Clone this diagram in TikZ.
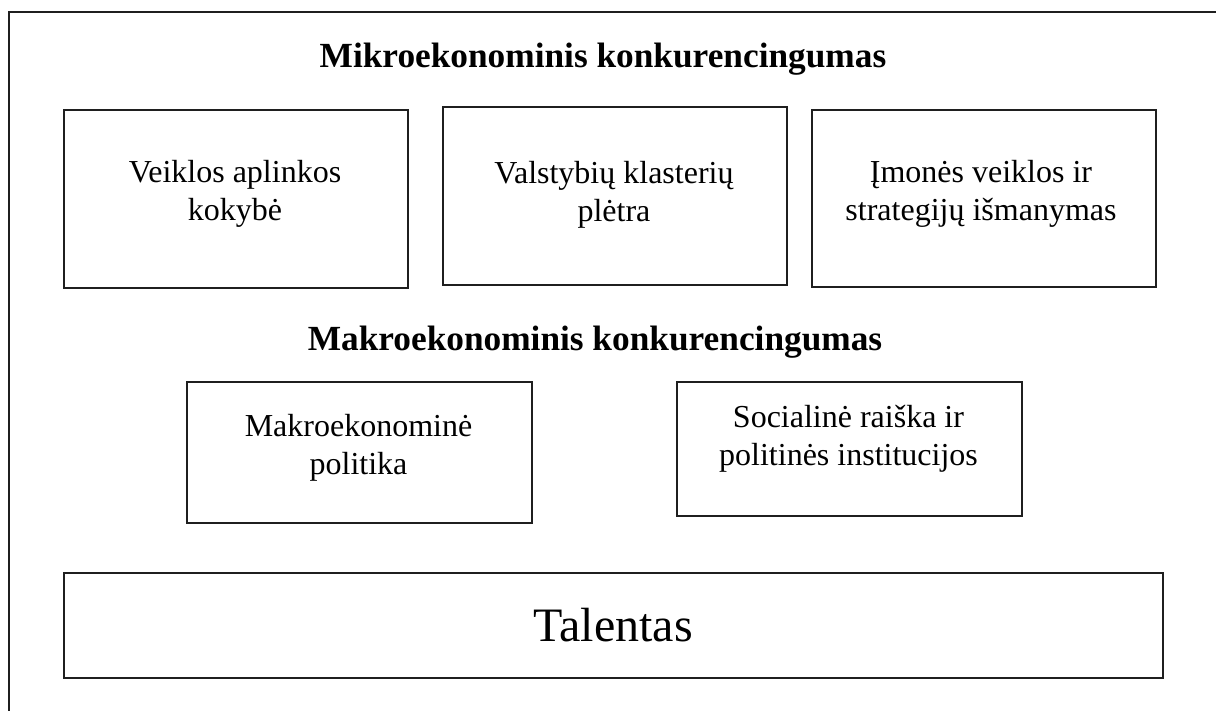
\documentclass[tikz,border=0pt]{standalone}
\usepackage{fontspec}
\setmainfont{Liberation Serif}
% two centred lines; the baseline of the box is that of the first line
\newcommand{\twolines}[2]{\vtop{\baselineskip=38pt\lineskiplimit=-100pt\halign{\hfil##\hfil\cr#1\cr#2\cr}}}
\begin{document}
\begin{tikzpicture}[x=1pt,y=-1pt,
  frame/.style={draw=black!88,line width=1.8pt},
  panel/.style={draw=black!88,line width=1.8pt,inner sep=0pt,anchor=north west},
  heading/.style={inner sep=0pt,anchor=base,font=\fontsize{35.3}{40}\selectfont\bfseries},
  boxtxt/.style={inner sep=0pt,anchor=base,font=\fontsize{32}{38}\selectfont},
  bigtxt/.style={inner sep=0pt,anchor=base,font=\fontsize{48}{54}\selectfont}]
\useasboundingbox (0,0) rectangle (1216,711);

% outer frame, open to the right and bottom
\draw[frame] (9,730) -- (9,12) -- (1230,12);

% microeconomic level
\node[heading] (hmicro) at (603,68) {Mikroekonominis konkurencingumas};
\node[panel,minimum width=344pt,minimum height=178pt] (b1) at (63,109) {};
\node[panel,minimum width=344pt,minimum height=178pt] (b2) at (442,106) {};
\node[panel,minimum width=344pt,minimum height=177pt] (b3) at (811,109) {};
\node[boxtxt] (t1) at (235,183) {\twolines{Veiklos aplinkos}{kokybė}};
\node[boxtxt] (t2) at (614,184) {\twolines{Valstybių klasterių}{plėtra}};
\node[boxtxt] (t3) at (981,183) {\twolines{Įmonės veiklos ir}{strategijų išmanymas}};

% macroeconomic level
\node[heading] (hmacro) at (595,351) {Makroekonominis konkurencingumas};
\node[panel,minimum width=345pt,minimum height=141pt] (b4) at (186,381) {};
\node[panel,minimum width=345pt,minimum height=134pt] (b5) at (676,381) {};
\node[boxtxt] (t4) at (358.5,436) {\twolines{Makroekonominė}{politika}};
\node[boxtxt] (t5) at (848.5,428) {\twolines{Socialinė raiška ir}{politinės institucijos}};

% foundation
\node[panel,minimum width=1099pt,minimum height=105pt] (b6) at (63,572) {};
\node[bigtxt] (t6) at (613,641) {Talentas};
\end{tikzpicture}
\end{document}
